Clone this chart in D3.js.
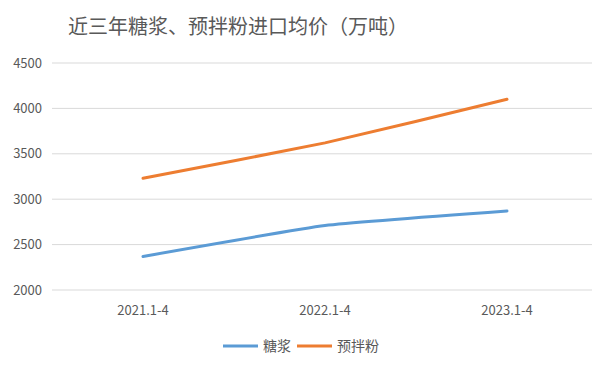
<!DOCTYPE html>
<html>
<head>
<meta charset="utf-8">
<script src="https://cdn.jsdelivr.net/npm/d3@7"></script>
<style>
  body { margin: 0; background: #fff; }
  text { font-family: "Noto Sans CJK SC", "Open Sans", sans-serif; fill: #595959; }
</style>
</head>
<body>
<div id="chart"></div>
<script>
// data
const categories = ["2021.1-4", "2022.1-4", "2023.1-4"];
const syrup = [2370, 2710, 2870];
const premix = [3230, 3620, 4100];
const yTicks = [2000, 2500, 3000, 3500, 4000, 4500];
const seriesNames = ["糖浆", "预拌粉"];
const colors = ["#5B9BD5", "#ED7D31"];

const width = 615, height = 366;
const plotLeft = 52, plotRight = 592, plotTop = 63, plotBottom = 290;

const svg = d3.select("#chart").append("svg")
  .attr("width", width)
  .attr("height", height);

svg.append("text")
  .attr("x", 238)
  .attr("y", 34)
  .attr("text-anchor", "middle")
  .style("font-size", "20px")
  .text("近三年糖浆、预拌粉进口均价（万吨）");

const x = d3.scalePoint()
  .domain(categories)
  .range([plotLeft, plotRight + 6])
  .padding(0.5);

const y = d3.scaleLinear()
  .domain([2000, 4500])
  .range([plotBottom, plotTop]);

// gridlines
svg.append("g")
  .selectAll("line")
  .data(yTicks)
  .enter()
  .append("line")
  .attr("x1", plotLeft)
  .attr("x2", plotRight)
  .attr("y1", d => y(d))
  .attr("y2", d => y(d))
  .attr("stroke", "#d9d9d9")
  .attr("stroke-width", 1);

// y labels
svg.append("g")
  .selectAll("text")
  .data(yTicks)
  .enter()
  .append("text")
  .attr("x", 42)
  .attr("y", d => y(d) + 4.5)
  .attr("text-anchor", "end")
  .style("font-size", "13px")
  .text(d => d);

// x labels
svg.append("g")
  .selectAll("text")
  .data(categories)
  .enter()
  .append("text")
  .attr("x", d => x(d))
  .attr("y", 315)
  .attr("text-anchor", "middle")
  .style("font-size", "13px")
  .text(d => d);

const line = d3.line()
  .x((d, i) => x(categories[i]))
  .y(d => y(d))
  .curve(d3.curveCardinal.tension(0.6));

[syrup, premix].forEach((s, i) => {
  svg.append("path")
    .datum(s)
    .attr("d", line)
    .attr("fill", "none")
    .attr("stroke", colors[i])
    .attr("stroke-width", 3)
    .attr("stroke-linecap", "round");
});

// legend
const legendX = [223, 297];
seriesNames.forEach((name, i) => {
  svg.append("line")
    .attr("x1", legendX[i])
    .attr("x2", legendX[i] + 35)
    .attr("y1", 346)
    .attr("y2", 346)
    .attr("stroke", colors[i])
    .attr("stroke-width", 3);
  svg.append("text")
    .attr("x", legendX[i] + 40)
    .attr("y", 351)
    .style("font-size", "14px")
    .text(name);
});
</script>
</body>
</html>
